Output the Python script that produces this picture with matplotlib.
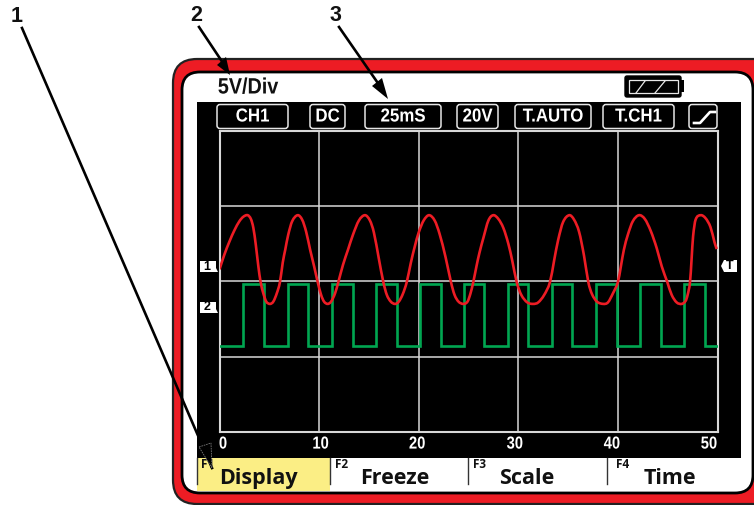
import matplotlib
matplotlib.use("Agg")
import matplotlib.pyplot as plt
import numpy as np
from matplotlib.patches import FancyBboxPatch, Polygon, Rectangle, PathPatch
from matplotlib.path import Path
from matplotlib.patheffects import AbstractPathEffect
from matplotlib.transforms import ScaledTranslation, Affine2D

# ---- data ----
time_ticks = [0, 10, 20, 30, 40, 50]
level_ticks = [1, 2, 3]

red_t = [0, .5, 1, 1.5, 2, 2.4, 2.83,
         3.15, 3.4, 3.65, 3.9, 4.13, 4.4, 4.7, 5.07,
         5.4, 5.75, 6.07, 6.35, 6.6, 6.9, 7.3, 7.85,
         8.3, 8.7, 9.1, 9.5, 9.86, 10.2, 10.5, 10.86,
         11.2, 11.6, 11.93, 12.4, 12.9, 13.4, 14.0, 14.61,
         15.1, 15.5, 16.0, 16.45, 16.8, 17.2, 17.62,
         18.0, 18.4, 18.8, 19.2, 19.6, 20.0, 20.5, 21.04,
         21.6, 22.1, 22.7, 23.24, 23.6, 24.0, 24.48,
         24.9, 25.2, 25.48, 25.8, 26.1, 26.5, 27.0, 27.49,
         28, 28.5, 29, 29.4, 29.84, 30.3, 30.9, 31.51,
         32, 32.6, 33.18, 33.6, 34, 34.5, 35.12,
         35.6, 36.1, 36.6, 37.03, 37.4, 37.9, 38.53,
         39, 39.5, 40, 40.3, 40.6, 41, 41.5, 42.12,
         42.7, 43.3, 43.9, 44.4, 44.96, 45.4, 45.9, 46.41,
         46.8, 47.0, 47.24, 47.4, 47.55, 47.8, 48.31,
         48.8, 49.3, 49.7, 49.92]
red_v = [2.16, 2.36, 2.53, 2.68, 2.80, 2.86, 2.88,
         2.83, 2.71, 2.48, 2.20, 1.99, 1.84, 1.73, 1.70,
         1.73, 1.84, 1.99, 2.25, 2.42, 2.62, 2.80, 2.88,
         2.82, 2.66, 2.42, 2.20, 1.99, 1.82, 1.73, 1.70,
         1.73, 1.84, 1.99, 2.22, 2.42, 2.62, 2.81, 2.88,
         2.81, 2.65, 2.30, 1.99, 1.82, 1.73, 1.70,
         1.73, 1.83, 1.99, 2.24, 2.46, 2.65, 2.81, 2.88,
         2.81, 2.63, 2.32, 1.99, 1.82, 1.73, 1.70,
         1.73, 1.84, 1.99, 2.20, 2.38, 2.58, 2.81, 2.88,
         2.83, 2.71, 2.50, 2.27, 1.99, 1.82, 1.72, 1.70,
         1.72, 1.82, 1.99, 2.28, 2.55, 2.79, 2.88,
         2.82, 2.66, 2.34, 1.99, 1.83, 1.73, 1.70,
         1.72, 1.84, 1.99, 2.20, 2.42, 2.62, 2.80, 2.88,
         2.83, 2.67, 2.44, 2.20, 1.99, 1.82, 1.72, 1.70,
         1.74, 1.82, 1.99, 2.30, 2.60, 2.82, 2.88,
         2.84, 2.72, 2.52, 2.43]

green_t = [0, 2.39, 4.50, 6.85, 8.92, 11.29, 13.37, 15.68, 17.79, 20.13, 22.2,
           24.55, 26.59, 29.0, 31.0, 33.35, 35.42, 37.80, 39.87, 42.2, 44.3,
           46.6, 48.7, 49.92]
green_v = [1.14, 1.96, 1.14, 1.96, 1.14, 1.96, 1.14, 1.96, 1.14, 1.96, 1.14,
           1.96, 1.14, 1.96, 1.14, 1.96, 1.14, 1.96, 1.14, 1.96, 1.14,
           1.96, 1.14, 1.14]

status_labels = ["CH1", "DC", "25mS", "20V", "T.AUTO", "T.CH1"]
softkey_labels = ["Display", "Freeze", "Scale", "Time"]
softkey_ids = ["F1", "F2", "F3", "F4"]
callouts = ["1", "2", "3"]

# ---- style ----
RED = "#ED1C24"
GREEN = "#00A651"
GRID = "#D8D8D8"
YELLOW = "#FBEE85"
SANS = "Open Sans"
NARROW = "Liberation Sans"
W, H = 754, 505


class Condense(AbstractPathEffect):
    """Draw a text narrower than the font is, about the centre of its run."""
    def __init__(self, factor):
        super().__init__()
        self.factor = factor

    def draw_path(self, renderer, gc, tpath, affine, rgbFace=None):
        box = tpath.transformed(affine).get_extents()
        cx = (box.x0 + box.x1) / 2
        squeeze = Affine2D().translate(-cx, 0).scale(self.factor, 1).translate(cx, 0)
        renderer.draw_path(gc, tpath, affine + squeeze, rgbFace)


def smooth_path(xs, ys):
    """Bezier path through the read points (tangents from the neighbours)."""
    p = np.column_stack([xs, ys])
    d = np.gradient(p, axis=0)
    gi = np.gradient(p[:, 0])
    verts = [p[0]]
    codes = [Path.MOVETO]
    for i in range(len(p) - 1):
        h = p[i + 1, 0] - p[i, 0]
        verts += [p[i] + d[i] * h / (3 * gi[i]), p[i + 1] - d[i + 1] * h / (3 * gi[i + 1]), p[i + 1]]
        codes += [Path.CURVE4] * 3
    return Path(np.array(verts), codes)


fig = plt.figure(figsize=(W / 100, H / 100), dpi=100, facecolor="white")
bg = fig.add_axes([0, 0, 1, 1])
bg.set_xlim(0, W)
bg.set_ylim(H, 0)
bg.axis("off")

# device bezel
bg.add_patch(FancyBboxPatch((173, 59), 610, 445, boxstyle="round,pad=0,rounding_size=24",
                            fc=RED, ec="#222222", lw=1.6))
bg.add_patch(FancyBboxPatch((182, 72), 571, 421, boxstyle="round,pad=0,rounding_size=18",
                            fc="white", ec="black", lw=2.0))
# screen
bg.add_patch(Rectangle((197, 102), 544, 356, fc="black", ec="none"))
bg.add_patch(Rectangle((197, 458), 133, 33, fc=YELLOW, ec="none"))

# status bar
boxes = [(217, 288), (310, 345), (365, 441), (457, 498), (515, 591), (603, 674)]
for (x0, x1), lab in zip(boxes, status_labels):
    bg.add_patch(FancyBboxPatch((x0, 104.5), x1 - x0, 24, boxstyle="round,pad=0,rounding_size=3",
                                fc="black", ec="#E6E6E6", lw=1.1))
    bg.text((x0 + x1) / 2, 117, lab, color="white", family=NARROW, weight="bold",
            fontsize=13.5, ha="center", va="center", path_effects=[Condense(0.9)])
bg.add_patch(FancyBboxPatch((689, 104.5), 28, 24, boxstyle="round,pad=0,rounding_size=3",
                            fc="black", ec="#E6E6E6", lw=1.1))
bg.plot([694, 700, 710, 715], [123, 123, 112, 112], color="white", lw=1.9, solid_joinstyle="round")

bg.text(248, 88, "5V/Div", color="#111111", family=NARROW, weight="bold",
        fontsize=16, ha="center", va="center", path_effects=[Condense(0.89)])

# battery
bg.add_patch(FancyBboxPatch((625, 76), 56, 21, boxstyle="round,pad=0,rounding_size=2",
                            fc="black", ec="black", lw=1))
bg.add_patch(Rectangle((681, 80), 3, 12, fc="black", ec="none"))
bg.add_patch(Rectangle((629, 80), 49, 13, fc="black", ec="#E8E8E8", lw=0.9))
bg.plot([636, 645], [93, 81], color="#E8E8E8", lw=0.9)
bg.plot([655, 665], [93, 81], color="#E8E8E8", lw=0.9)

# channel and trigger flags
for ytop, lab in zip([261, 302], ["1", "2"]):
    bg.add_patch(Polygon([(200, ytop), (216, ytop), (216, ytop + 7), (218, ytop + 11), (200, ytop + 11)],
                         fc="white", ec="none"))
    bg.text(207, ytop + 5.5, lab, color="black", family="Liberation Sans", weight="bold",
            fontsize=9, ha="center", va="center")
bg.add_patch(Polygon([(721, 266), (724, 260), (737, 260), (737, 272), (724, 272)], fc="white", ec="none"))
bg.text(730, 266, "T", color="black", family="Liberation Sans", weight="bold",
        fontsize=9, ha="center", va="center")

# soft keys
for x in [197, 330, 468, 607]:
    bg.plot([x, x], [458, 484], color="#333333", lw=1.0)
for x, cx, key, lab in zip([201, 334.5, 473.5, 616], [258, 394.5, 527, 670], softkey_ids, softkey_labels):
    bg.text(x, 464, key, color="#111111", family=SANS, weight="bold", fontsize=8.5, ha="left", va="center")
    bg.text(cx, 484, lab, color="#111111", family=SANS, weight="bold", fontsize=15.5, ha="center", va="baseline")

# scope trace
ax = fig.add_axes([219.5 / W, (H - 431.7) / H, 498 / W, 300.7 / H])
ax.set_facecolor("black")
ax.set_xlim(0, 50)
ax.set_ylim(0, 4)
ax.set_xticks(time_ticks)
ax.set_yticks(level_ticks)
ax.set_yticklabels([])
ax.grid(True, color=GRID, lw=1.1)
ax.set_axisbelow(True)
ax.tick_params(axis="both", length=0)
ax.tick_params(axis="x", pad=3.5, labelcolor="white", labelsize=12.5)
for s in ax.spines.values():
    s.set_color(GRID)
    s.set_linewidth(1.5)
shifts = [3.5, 1.5, -1.5, -3.5, -6, -8.5]
for lab, dx in zip(ax.get_xticklabels(), shifts):
    lab.set_family(NARROW)
    lab.set_weight("bold")
    lab.set_path_effects([Condense(0.85)])
    lab.set_transform(lab.get_transform() + ScaledTranslation(dx / 100, 0, fig.dpi_scale_trans))
ax.plot(green_t, green_v, color=GREEN, lw=1.9, drawstyle="steps-post", solid_joinstyle="miter", zorder=3)
ax.add_patch(PathPatch(smooth_path(red_t, red_v), fc="none", ec=RED, lw=1.9, joinstyle="round", zorder=4))

# callouts on top
top = fig.add_axes([0, 0, 1, 1], facecolor="none")
top.set_xlim(0, W)
top.set_ylim(H, 0)
top.axis("off")
for (cx, cy), lab in zip([(17, 16), (196, 15.5), (335, 15.5)], callouts):
    top.text(cx, cy, lab, color="#111111", family="Liberation Sans", weight="bold",
             fontsize=15.5, ha="center", va="center")
top.plot([22, 212], [28, 468], color="black", lw=1.9, zorder=2)
top.add_patch(Polygon([(199, 447), (211, 443), (212, 468)], fc="black", ec="#777777", lw=0.6, ls=(0, (2, 1)), zorder=3))
top.plot([199, 225], [27, 66], color="black", lw=1.9)
top.add_patch(Polygon([(230, 75), (217, 65), (226, 57)], fc="black", ec="none"))
top.plot([339, 382], [27, 89], color="black", lw=1.9)
top.add_patch(Polygon([(388, 99), (372, 86), (382, 78)], fc="black", ec="none"))

fig.savefig("out.png", dpi=100, facecolor="white")
